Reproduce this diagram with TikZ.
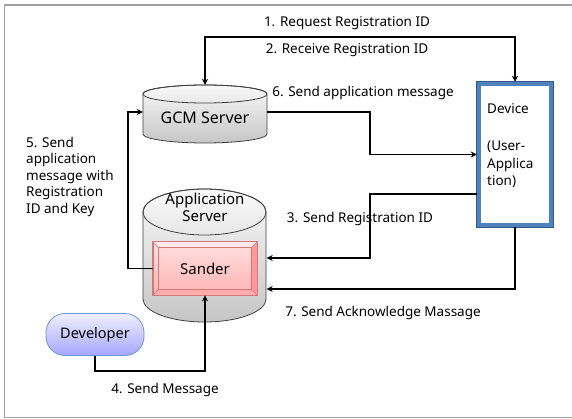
\documentclass[tikz,border=0pt]{standalone}
\usepackage{fontspec}
\setmainfont{Noto Sans}
\usetikzlibrary{shapes.geometric, arrows.meta, positioning, calc}
\definecolor{devblue}{RGB}{79,129,189}
\definecolor{devdark}{RGB}{52,88,140}
\definecolor{sandline}{RGB}{214,120,120}
\definecolor{devline}{RGB}{110,150,210}

\begin{document}
\begin{tikzpicture}[x=1pt, y=-1pt, font=\fontsize{13.5}{16}\selectfont,
  server/.style={inner sep=0pt, minimum width=124pt},
  drum/.style={draw=black!75, line width=0.8pt, top color=gray!5, bottom color=gray!45},
  sbox/.style={draw=sandline, line width=0.8pt, top color=red!12, bottom color=red!30, minimum width=104pt, minimum height=53pt},
  devbox/.style={draw=devblue, line width=4.5pt, fill=white, preaction={draw=devdark, line width=6pt}, minimum width=72pt, minimum height=141pt},
  person/.style={draw=devline, line width=0.8pt, rounded corners=19pt, top color=blue!6, bottom color=blue!35, minimum width=98pt, minimum height=42pt, font=\fontsize{14.5}{16}\selectfont},
  flow/.style={line width=1.5pt, -{Stealth[length=6pt, width=6pt, inset=2pt]}},
  msg/.style={inner sep=1pt}
]
  \useasboundingbox (0,0) rectangle (572,419);
  \draw[gray!75, line width=1.5pt] (574,5) -- (4.5,5) -- (4.5,417.5) -- (574,417.5);

  % drums behind the server nodes
  \path[drum] (143,94) -- (143,134) arc[start angle=180, end angle=360, x radius=62pt, y radius=9pt]
    -- (267,94) arc[start angle=0, end angle=180, x radius=62pt, y radius=9pt] -- cycle;
  \draw[black!75, line width=0.8pt] (205,94) ellipse [x radius=62pt, y radius=9pt];
  \path[drum] (143,212) -- (143,299) arc[start angle=180, end angle=360, x radius=61.5pt, y radius=23pt]
    -- (266,212) arc[start angle=0, end angle=180, x radius=61.5pt, y radius=23pt] -- cycle;
  \draw[black!75, line width=0.8pt] (204.5,212) ellipse [x radius=61.5pt, y radius=23pt];

  % boxes
  \node[server, minimum height=58pt] (gcm) at (205,114) {};
  \node[font=\fontsize{16}{18}\selectfont] (gcmtext) at (205,118) {GCM Server};
  \node[server, minimum height=134pt] (app) at (204.5,256) {};
  \node[align=center, inner sep=0pt, font=\fontsize{15}{17}\selectfont] (apptext) at (205,207) {Application\\Server};
  \node[sbox] (sander) at (205,268.5) {};
  \fill[red!40] (sander.north east) -- ([shift={(-6pt,-6pt)}]sander.north east) -- ([shift={(-6pt,6pt)}]sander.south east) -- (sander.south east) -- cycle;
  \fill[red!32] (sander.south west) -- ([shift={(6pt,6pt)}]sander.south west) -- ([shift={(-6pt,6pt)}]sander.south east) -- (sander.south east) -- cycle;
  \fill[red!8] (sander.north west) -- ([shift={(6pt,-6pt)}]sander.north west) -- ([shift={(-6pt,-6pt)}]sander.north east) -- (sander.north east) -- cycle;
  \draw[sandline, line width=0.6pt] ([shift={(6pt,-6pt)}]sander.north west) rectangle ([shift={(-6pt,6pt)}]sander.south east);
  \draw[sandline, line width=0.6pt] (sander.north west) -- ([shift={(6pt,-6pt)}]sander.north west)
    (sander.north east) -- ([shift={(-6pt,-6pt)}]sander.north east)
    (sander.south west) -- ([shift={(6pt,6pt)}]sander.south west)
    (sander.south east) -- ([shift={(-6pt,6pt)}]sander.south east);
  \draw[sandline, line width=0.8pt] (sander.north west) rectangle (sander.south east);
  \node[font=\fontsize{15}{17}\selectfont] (sandtext) at (sander.center) {Sander};
  \node[devbox] (device) at (515,154.5) {};
  \node[anchor=north west, align=left, inner sep=0pt, font=\fontsize{13.5}{17.5}\selectfont] (devtext) at (487,103) {Device\\[20pt](User-\\Applica\\tion)};
  \node[person] (dev) at (95,334.5) {Developer};

  % connectors
  \draw[flow, {Stealth[length=6pt, width=6pt, inset=2pt]}-{Stealth[length=6pt, width=6pt, inset=2pt]}] (gcm.north) |- (360,37) -| (device.north);
  \draw[flow] ([yshift=2pt]gcm.east) -| (370,135) |- (device.west);
  \draw[flow] ([yshift=-39.5pt]device.west) -| (370,230) |- ([yshift=-2pt]app.east);
  \draw[flow] (device.south) |- ([yshift=-33pt]app.east);
  \draw[flow] (sander.west) -| (128,190) |- ([yshift=2pt]gcm.west);
  \draw[flow] (dev.south) |- (150,371) -| (sander.south);

  % labels
  \node[msg] (l1) at (347,23) {1. Request Registration ID};
  \node[msg] (l2) at (347,50) {2. Receive Registration ID};
  \node[msg] (l6) at (363,93) {6. Send application message};
  \node[msg] (l3) at (360,219) {3. Send Registration ID};
  \node[msg] (l7) at (383,313) {7. Send Acknowledge Massage};
  \node[msg] (l4) at (165,390) {4. Send Message};
  \node[msg, anchor=north west, align=left, font=\fontsize{13.5}{16.5}\selectfont] (l5) at (25,136) {5. Send\\application\\message with\\Registration\\ID and Key};
\end{tikzpicture}
\end{document}
